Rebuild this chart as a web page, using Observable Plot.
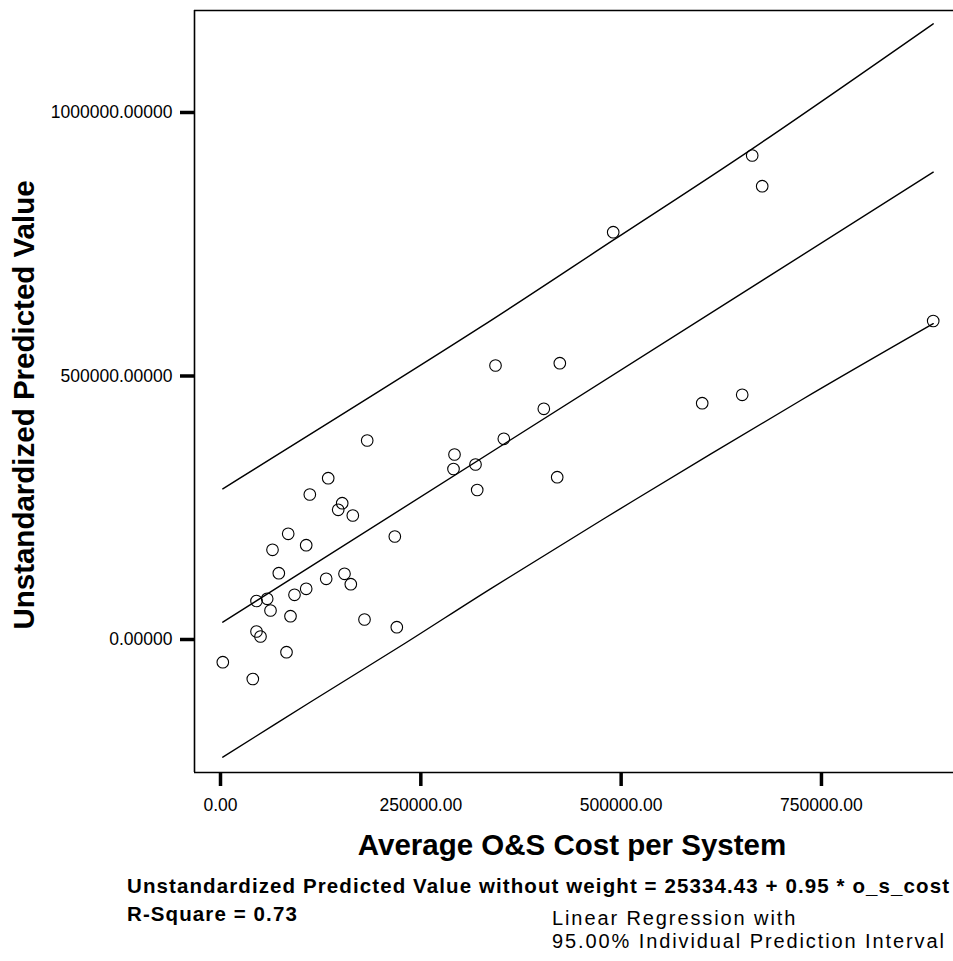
<!DOCTYPE html>
<html><head><meta charset="utf-8">
<script src="https://cdn.jsdelivr.net/npm/d3@7"></script>
<script src="https://cdn.jsdelivr.net/npm/@observablehq/plot@0.6"></script>
<style>
html,body{margin:0;padding:0;background:#fff;}
#wrap{position:relative;width:953px;height:961px;overflow:hidden;font-family:"Liberation Sans",Arial,sans-serif;color:#000;background:#fff;}
#wrap svg{position:absolute;left:0;top:0;}
#wrap svg g[aria-label*="axis tick"], #wrap svg g[aria-label*="axis tick"] *{stroke-width:3.5px !important;}
.note{position:absolute;white-space:nowrap;line-height:1;color:#000;}
.eq{font-weight:bold;font-size:20.5px;letter-spacing:1.1px;}
.leg{font-size:20px;letter-spacing:1.9px;}
</style></head><body><div id="wrap"></div>
<script>
// Observed values (Average O&S cost per system vs unstandardized predicted value)
const osCost = [2870, 40310, 44930, 49920, 44930, 58280, 62400, 72760, 64900, 84490,
  82370, 87360, 92350, 106950, 106950, 111450, 134410, 131910, 146890, 151880,
  154750, 162610, 165110, 179710, 183080, 217530, 220020, 292030, 290780, 318240,
  320360, 343200, 353560, 403480, 420200, 423450, 490090, 601160, 651080, 663560,
  676040, 889450];
const predicted = [-43070, -74950, 15180, 5690, 73050, 77230, 55030, 125800, 170200, 200570,
  -24100, 44210, 84820, 96200, 178930, 275140, 306070, 115180, 246110, 258630,
  124670, 104930, 235290, 37950, 377600, 195440, 23340, 351040, 323520, 332060,
  283680, 519920, 380830, 437750, 307960, 524280, 772850, 448380, 464320, 918390,
  860140, 604350];

// Regression line
const fitX = [2870, 889450];
const fitY = [32830, 886700];
// 95% individual prediction interval
const upperX = [2870, 324480, 490090, 663560, 889450];
const upperY = [285960, 592590, 757670, 931100, 1168290];
const lowerX = [2870, 112320, 230880, 336960, 515800, 723840, 889450];
const lowerY = [-223340, -118600, -6640, 96200, 263750, 453500, 599230];

const xTicks = [0, 250000, 500000, 750000];
const yTicks = [0, 500000, 1000000];
const xDomain = [-32450, 914780];
const yDomain = [-252370, 1193530];

const xTitle = "Average O&S Cost per System";
const yTitle = "Unstandardized Predicted Value";
const eqText = "Unstandardized Predicted Value without weight = 25334.43 + 0.95 * o_s_cost";
const r2Text = "R-Square = 0.73";
const legendLines = ["Linear Regression with", "95.00% Individual Prediction Interval"];

const pts = osCost.map((x, i) => ({x, y: predicted[i]}));
const fit = fitX.map((x, i) => ({x, y: fitY[i]}));
const upper = upperX.map((x, i) => ({x, y: upperY[i]}));
const lower = lowerX.map((x, i) => ({x, y: lowerY[i]}));

const chart = Plot.plot({
  width: 953,
  height: 870,
  marginLeft: 194,
  marginRight: 0,
  marginTop: 10,
  marginBottom: 98,
  style: {fontFamily: '"Liberation Sans", Arial, sans-serif', fontSize: "17.5px", color: "black", background: "white"},
  x: {domain: xDomain, label: null},
  y: {domain: yDomain, label: null},
  marks: [
    Plot.ruleX([xDomain[0]], {stroke: "black", strokeWidth: 1.6}),
    Plot.ruleY([yDomain[0], yDomain[1]], {stroke: "black", strokeWidth: 1.6}),
    Plot.line(upper, {x: "x", y: "y", stroke: "black", strokeWidth: 1.4, curve: "catmull-rom"}),
    Plot.line(fit, {x: "x", y: "y", stroke: "black", strokeWidth: 1.4}),
    Plot.line(lower, {x: "x", y: "y", stroke: "black", strokeWidth: 1.4, curve: "catmull-rom"}),
    Plot.dot(pts, {x: "x", y: "y", r: 5.8, stroke: "black", strokeWidth: 1.1, fill: "none"}),
    Plot.axisX(xTicks, {tickSize: 14, tickPadding: 12, strokeWidth: 3.5, tickFormat: d => d.toFixed(2), label: null, fontSize: 17.5}),
    Plot.axisY(yTicks, {tickSize: 14, tickPadding: 8, strokeWidth: 3.5, tickFormat: d => d.toFixed(5), label: null, fontSize: 17.5}),
    Plot.text([xTitle], {text: d => d, frameAnchor: "bottom", lineAnchor: "bottom", dy: 82, dx: -2, fontSize: 29.5, fontWeight: "bold"}),
    Plot.text([yTitle], {text: d => d, frameAnchor: "left", rotate: -90, textAnchor: "middle", lineAnchor: "bottom", dx: -161, dy: 13.5, fontSize: 29.5, fontWeight: "bold"})
  ]
});

const wrap = document.getElementById("wrap");
wrap.appendChild(chart);

function addNote(text, cls, left, top) {
  const d = document.createElement("div");
  d.className = "note " + cls;
  d.textContent = text;
  d.style.left = left + "px";
  d.style.top = top + "px";
  wrap.appendChild(d);
}
addNote(eqText, "eq", 127, 876);
addNote(r2Text, "eq", 127, 904);
addNote(legendLines[0], "leg", 552, 908);
addNote(legendLines[1], "leg", 552, 931);
</script></body></html>
